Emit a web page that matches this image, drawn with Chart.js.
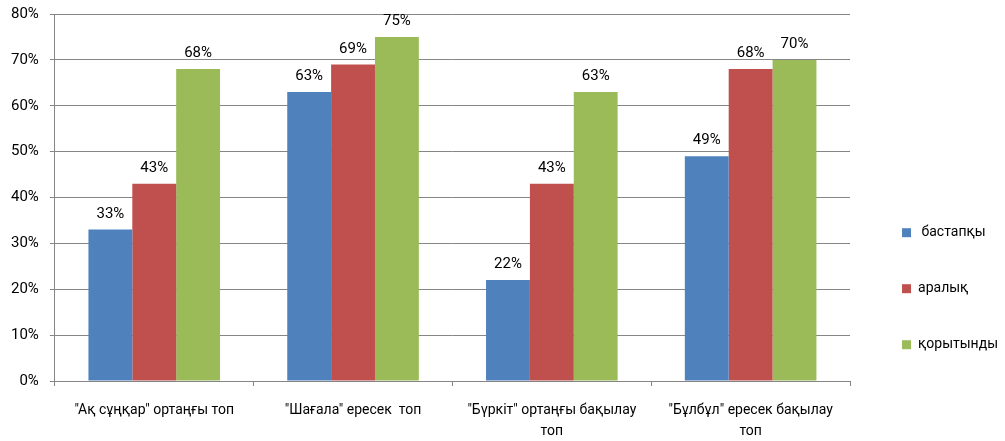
<!DOCTYPE html>
<html>
<head>
<meta charset="utf-8">
<script src="https://cdn.jsdelivr.net/npm/chart.js@4/dist/chart.umd.min.js"></script>
<style>
  html, body { margin: 0; padding: 0; background: #ffffff; }
  #wrap { width: 1005px; height: 441px; position: relative; }
</style>
</head>
<body>
<div id="wrap"><canvas id="c" width="1005" height="441"></canvas></div>
<script>
const categories = [
  '"Ақ сұңқар" ортаңғы топ',
  '"Шағала" ересек  топ',
  ['"Бүркіт" ортаңғы бақылау', 'топ'],
  ['"Бұлбұл" ересек бақылау', 'топ']
];
const seriesNames = [' бастапқы', 'аралық', 'қорытынды'];
const bastapky = [33, 63, 22, 49];
const aralyk = [43, 69, 43, 68];
const korytyndy = [68, 75, 63, 70];
const yTicks = [0, 10, 20, 30, 40, 50, 60, 70, 80];

const colors = ['#4F81BD', '#C0504D', '#9BBB59'];
const FONT = 'Roboto, "Noto Sans", sans-serif';

const valueLabels = {
  id: 'valueLabels',
  afterDatasetsDraw(chart) {
    const ctx = chart.ctx;
    ctx.save();
    ctx.font = '15px ' + FONT;
    ctx.fillStyle = '#000';
    ctx.textAlign = 'center';
    ctx.textBaseline = 'bottom';
    chart.data.datasets.forEach((ds, i) => {
      const meta = chart.getDatasetMeta(i);
      meta.data.forEach((bar, j) => {
        ctx.fillText(ds.data[j] + '%', bar.x, bar.y - 8);
      });
    });
    ctx.restore();
  }
};

new Chart(document.getElementById('c'), {
  type: 'bar',
  data: {
    labels: categories,
    datasets: [
      { label: seriesNames[0], data: bastapky, backgroundColor: colors[0] },
      { label: seriesNames[1], data: aralyk, backgroundColor: colors[1] },
      { label: seriesNames[2], data: korytyndy, backgroundColor: colors[2] }
    ]
  },
  options: {
    responsive: false,
    animation: false,
    devicePixelRatio: 1,
    layout: { padding: { left: 0, top: 14, right: -3, bottom: 0 } },
    datasets: { bar: { categoryPercentage: 0.662, barPercentage: 1.0 } },
    scales: {
      x: {
        offset: true,
        grid: { offset: true, drawOnChartArea: false, drawTicks: true, tickLength: 5, color: '#868686' },
        border: { color: '#868686' },
        ticks: { font: { family: FONT, size: 14, lineHeight: 1.5 }, color: '#000', padding: 14, maxRotation: 0, autoSkip: false },
        afterFit(scale) { scale.height = 60; }
      },
      y: {
        min: 0, max: 80,
        afterBuildTicks(scale) { scale.ticks = yTicks.map(v => ({ value: v })); },
        grid: { color: '#868686', tickLength: 5 },
        border: { color: '#868686' },
        ticks: { font: { family: FONT, size: 15, lineHeight: 0.4 }, color: '#000', padding: 11, callback: v => v + '%' }
      },
      gap: {
        position: 'right',
        display: true,
        grid: { display: false, drawTicks: false },
        border: { display: false },
        ticks: { display: false },
        afterFit(scale) { scale.width = 10; }
      }
    },
    plugins: {
      legend: {
        position: 'right',
        align: 'center',
        title: { display: true, text: ' ', padding: { top: 108, bottom: 0 } },
        labels: { font: { family: FONT, size: 14 }, color: '#000', boxWidth: 9, boxHeight: 9, padding: 42 }
      },
      tooltip: { enabled: false }
    }
  },
  plugins: [valueLabels]
});
</script>
</body>
</html>
